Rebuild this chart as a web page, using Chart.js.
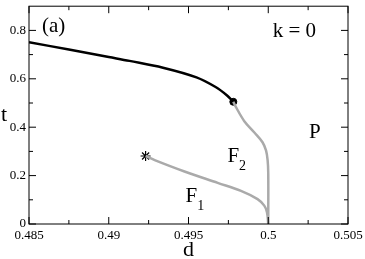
<!DOCTYPE html>
<html>
<head>
<meta charset="utf-8">
<script src="https://cdn.jsdelivr.net/npm/chart.js@4"></script>
<style>
  html, body { margin: 0; padding: 0; background: #fff; }
  #wrap { width: 365px; height: 259px; }
</style>
</head>
<body>
<div id="wrap"><canvas id="phaseChart" width="365" height="259"></canvas></div>
<script>
// tick values
const xTicks = [0.485, 0.49, 0.495, 0.5, 0.505];
const yTicks = [0, 0.2, 0.4, 0.6, 0.8];
const xMinor = [0.4875, 0.4925, 0.4975, 0.5025];
const yMinor = [0.1, 0.3, 0.5, 0.7];

// first-order line (black), ends at the critical point
const blackD = [0.485, 0.4875, 0.49, 0.4913, 0.4934, 0.4955, 0.4967, 0.4974, 0.49781];
const blackT = [0.751, 0.721, 0.690, 0.674, 0.646, 0.606, 0.566, 0.532, 0.505];

// grey line P / F2
const upperD = [0.49781, 0.49796, 0.4985, 0.49913, 0.49964, 0.49986, 0.49996, 0.5, 0.5];
const upperT = [0.505, 0.485, 0.425, 0.378, 0.338, 0.304, 0.264, 0.21, 0];

// grey line F1 / F2
const lowerD = [0.49231, 0.49288, 0.49475, 0.49683, 0.49829, 0.49933, 0.49975, 0.49992, 0.5];
const lowerT = [0.281, 0.264, 0.217, 0.170, 0.137, 0.103, 0.076, 0.049, 0];

const critPoint = [0.49781, 0.505];
const starPoint = [0.49231, 0.281];

// region labels: [text, subscript, d, t]
const labels = [
  ['(a)', '', 0.48581, 0.792],
  ['k = 0', '', 0.50028, 0.772],
  ['P', '', 0.50256, 0.354],
  ['F', '2', 0.49744, 0.257],
  ['F', '1', 0.49481, 0.09]
];

const SERIF = "'Liberation Serif', 'Times New Roman', Times, 'DejaVu Serif', serif";
const GREY = '#aaaaaa';

function pts(xs, ys) {
  return xs.map((x, i) => ({ x: x, y: ys[i] }));
}

function noPad(s) {
  s.paddingTop = 0; s.paddingBottom = 0; s.paddingLeft = 0; s.paddingRight = 0;
}

const framePlugin = {
  id: 'frame',
  afterDraw(chart) {
    const ctx = chart.ctx;
    const a = chart.chartArea;
    const xs = chart.scales.x, ys = chart.scales.y;
    ctx.save();
    ctx.strokeStyle = '#000';
    ctx.lineWidth = 1;
    ctx.strokeRect(a.left, a.top, a.right - a.left, a.bottom - a.top);

    ctx.beginPath();
    const tick = (vals, len) => {
      vals.forEach(v => {
        const px = xs.getPixelForValue(v);
        ctx.moveTo(px, a.bottom); ctx.lineTo(px, a.bottom - len);
        ctx.moveTo(px, a.top); ctx.lineTo(px, a.top + len);
      });
    };
    const ytick = (vals, len) => {
      vals.forEach(v => {
        const py = ys.getPixelForValue(v);
        ctx.moveTo(a.left, py); ctx.lineTo(a.left + len, py);
        ctx.moveTo(a.right, py); ctx.lineTo(a.right - len, py);
      });
    };
    tick(xTicks, 7);
    tick(xMinor, 4);
    ytick(yTicks, 7);
    ytick(yMinor, 4);
    ctx.stroke();

    // axis titles
    ctx.fillStyle = '#000';
    ctx.font = '22px ' + SERIF;
    ctx.textAlign = 'left';
    ctx.textBaseline = 'alphabetic';
    ctx.fillText('t', 1, 121);
    ctx.textAlign = 'center';
    ctx.fillText('d', (a.left + a.right) / 2, 256);

    // labels inside the plot
    ctx.textAlign = 'left';
    labels.forEach(l => {
      const px = xs.getPixelForValue(l[2]);
      const py = ys.getPixelForValue(l[3]);
      ctx.font = '21px ' + SERIF;
      ctx.fillText(l[0], px, py);
      if (l[1]) {
        const w = ctx.measureText(l[0]).width;
        ctx.font = '14px ' + SERIF;
        ctx.fillText(l[1], px + w, py + 8);
      }
    });
    ctx.restore();
  }
};

new Chart(document.getElementById('phaseChart'), {
  type: 'scatter',
  data: {
    datasets: [
      { data: pts(upperD, upperT), showLine: true, borderColor: GREY, borderWidth: 2.5, pointRadius: 0, tension: 0.35, fill: false },
      { data: pts(lowerD, lowerT), showLine: true, borderColor: GREY, borderWidth: 2.5, pointRadius: 0, tension: 0.35, fill: false },
      { data: pts(blackD, blackT), showLine: true, borderColor: '#000', borderWidth: 2.5, pointRadius: 0, tension: 0.35, fill: false },
      { data: [{ x: critPoint[0], y: critPoint[1] }], pointRadius: 3.5, pointBackgroundColor: '#000', pointBorderColor: '#000', showLine: false },
      { data: [{ x: starPoint[0], y: starPoint[1] }], pointStyle: 'star', pointRadius: 5, pointBorderWidth: 1.2, pointBorderColor: '#000', showLine: false }
    ]
  },
  options: {
    responsive: false,
    animation: false,
    devicePixelRatio: 1,
    layout: { padding: { top: 1, right: 17, left: 0, bottom: 0 } },
    plugins: { legend: { display: false }, tooltip: { enabled: false } },
    scales: {
      x: {
        type: 'linear', min: 0.485, max: 0.505,
        grid: { display: false, drawTicks: false },
        border: { display: false },
        afterBuildTicks: s => { s.ticks = xTicks.map(v => ({ value: v })); },
        afterFit: s => { s.height = 35; noPad(s); },
        ticks: { color: '#000', padding: 4, maxRotation: 0, autoSkip: false, font: { family: SERIF, size: 13 }, callback: v => String(v) }
      },
      y: {
        type: 'linear', min: 0, max: 0.9,
        grid: { display: false, drawTicks: false },
        border: { display: false },
        afterBuildTicks: s => { s.ticks = yTicks.map(v => ({ value: v })); },
        afterFit: s => { s.width = 29; noPad(s); },
        ticks: { color: '#000', padding: 3, autoSkip: false, font: { family: SERIF, size: 13 }, callback: v => String(v) }
      }
    }
  },
  plugins: [framePlugin]
});
</script>
</body>
</html>
